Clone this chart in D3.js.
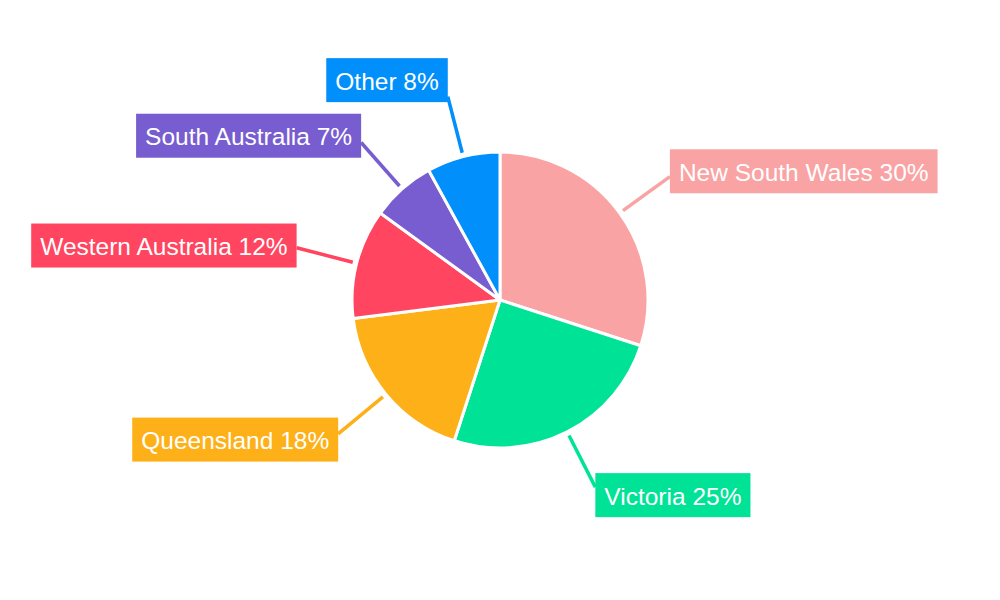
<!DOCTYPE html>
<html>
<head>
<meta charset="utf-8">
<script src="https://cdn.jsdelivr.net/npm/d3@7"></script>
<style>
html,body{margin:0;padding:0;background:#fff;}
svg{display:block;}
</style>
</head>
<body>
<svg id="chart" width="1000" height="600"></svg>
<script>
const categories = ["New South Wales", "Victoria", "Queensland", "Western Australia", "South Australia", "Other"];
const values = [30, 25, 18, 12, 7, 8];
const colors = ["#F9A3A4", "#00E396", "#FEB019", "#FF4560", "#775DD0", "#008FFB"];

const W = 1000, H = 600;
const cx = 500, cy = 300, R = 148;
const svg = d3.select("#chart");
const g = svg.append("g").attr("transform", `translate(${cx},${cy})`);

const pie = d3.pie().sort(null).value(d => d.v);
const data = categories.map((c, i) => ({ c, v: values[i], col: colors[i] }));
const arcs = pie(data);
const total = d3.sum(values);
const arc = d3.arc().innerRadius(0).outerRadius(R);

g.selectAll("path.slice").data(arcs).join("path")
  .attr("class", "slice")
  .attr("d", arc)
  .attr("fill", d => d.data.col)
  .attr("stroke", "#fff")
  .attr("stroke-width", 3)
  .attr("stroke-linejoin", "round");

const r1 = R + 4, r2 = 210;
arcs.forEach(d => {
  const a = (d.startAngle + d.endAngle) / 2;
  const s = Math.sin(a), c = Math.cos(a);
  const x1 = r1 * s, y1 = -r1 * c, x2 = r2 * s, y2 = -r2 * c;
  g.append("line").attr("x1", x1).attr("y1", y1).attr("x2", x2).attr("y2", y2)
    .attr("stroke", d.data.col).attr("stroke-width", 3.5);
  const label = `${d.data.c} ${Math.round(d.data.v / total * 100)}%`;
  const lg = g.append("g");
  const rect = lg.append("rect").attr("fill", d.data.col);
  const t = lg.append("text").text(label)
    .attr("font-family", "'Liberation Sans', Arial, sans-serif")
    .attr("font-size", 24.5).attr("fill", "#fff")
    .attr("dominant-baseline", "central");
  const tw = t.node().getComputedTextLength();
  const pad = 9, bh = 44, bw = tw + pad * 2;
  const right = s >= 0;
  const bx = right ? x2 : x2 - bw;
  const bcy = y2 - (c > 0.9 ? 17 : 9) * c;
  rect.attr("x", bx).attr("y", bcy - bh / 2).attr("width", bw).attr("height", bh);
  t.attr("x", bx + pad).attr("y", bcy + 1);
});
</script>
</body>
</html>
